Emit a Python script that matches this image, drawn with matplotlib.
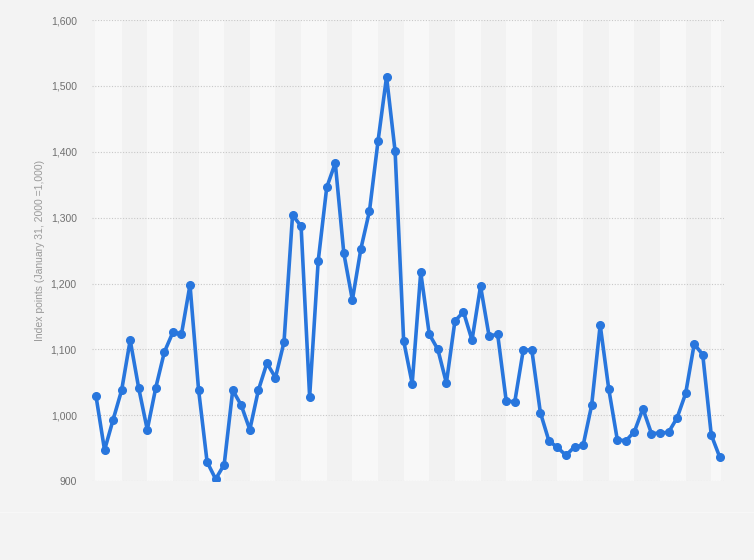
import matplotlib
matplotlib.use("Agg")
import matplotlib.pyplot as plt
from matplotlib.ticker import FuncFormatter

# index values, one per period
index_values = [
    1029, 947, 993, 1038, 1114, 1041, 978, 1042, 1096, 1126,
    1123, 1198, 1039, 929, 903, 925, 1038, 1015, 978, 1038,
    1079, 1057, 1111, 1304, 1287, 1028, 1234, 1346, 1383, 1246,
    1175, 1253, 1310, 1416, 1514, 1401, 1113, 1048, 1217, 1123,
    1100, 1049, 1143, 1157, 1114, 1196, 1120, 1123, 1022, 1020,
    1099, 1099, 1004, 961, 951, 939, 952, 954, 1015, 1137,
    1040, 963, 961, 975, 1010, 972, 973, 974, 996, 1033,
    1108, 1092, 970, 936,
]
y_ticks = [900, 1000, 1100, 1200, 1300, 1400, 1500, 1600]
y_label = "Index points (January 31, 2000 =1,000)"

BG = "#f3f3f3"
BAND_LIGHT = "#f8f8f8"
BAND_DARK = "#f2f2f2"
LINE = "#2876dd"
BAND_WIDTH = 3

plt.rcParams["font.family"] = ["Liberation Sans", "DejaVu Sans"]

fig = plt.figure(figsize=(7.54, 5.6), dpi=100, facecolor=BG)
ax = fig.add_axes([0.122, 0.141, 0.838, 0.823])
ax.set_facecolor(BG)

x = list(range(len(index_values)))
n_last = x[-1]

# alternating column bands
start = 0
i = 0
while start < n_last:
    end = min(start + BAND_WIDTH, n_last + 0.1)
    left = start - 0.1 if start == 0 else start
    ax.axvspan(left, end, color=BAND_LIGHT if i % 2 == 0 else BAND_DARK,
               lw=0, zorder=0)
    start += BAND_WIDTH
    i += 1

ax.plot(x, index_values, color=LINE, lw=2.6, marker="o", markersize=5.5,
        zorder=3, solid_joinstyle="round")

ax.set_xlim(-0.47, n_last + 0.47)
ax.set_ylim(900, 1600)
ax.set_yticks(y_ticks)
ax.yaxis.set_major_formatter(FuncFormatter(lambda v, p: f"{int(v):,}"))
ax.set_xticks([])
ax.grid(axis="y", color="#c8c8c8", lw=0.8, ls=(0, (1, 1.5)), zorder=1)
ax.set_axisbelow(True)
for s in ax.spines.values():
    s.set_visible(False)
ax.tick_params(axis="y", length=0, pad=11, labelsize=7.5, labelcolor="#707070")
ax.set_ylabel(y_label, fontsize=7.5, color="#999999", labelpad=4)

# faint separator under the plot area
fig.add_artist(plt.Line2D([0, 1], [1 - 512 / 560] * 2, color="#f7f7f7",
                          lw=1, transform=fig.transFigure))

fig.savefig("out.png", dpi=100, facecolor=BG)
